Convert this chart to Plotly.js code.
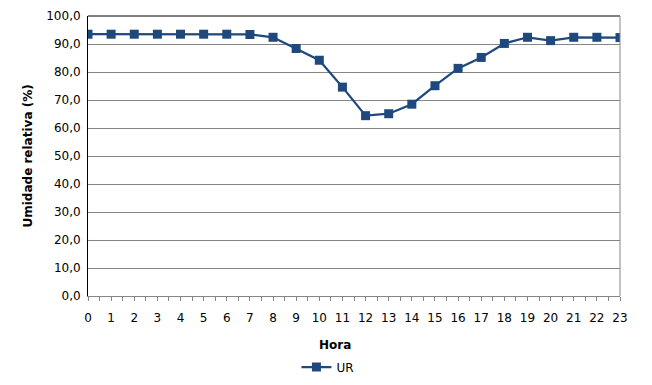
<!DOCTYPE html>
<html>
<head>
<meta charset="utf-8">
<script src="https://cdn.plot.ly/plotly-3.0.1.min.js"></script>
<style>html,body{margin:0;padding:0;background:#fff;}#chart{width:652px;height:385px;}</style>
</head>
<body>
<div id="chart"></div>
<script>
const hours = [0,1,2,3,4,5,6,7,8,9,10,11,12,13,14,15,16,17,18,19,20,21,22,23];
const ur = [93.5,93.5,93.5,93.5,93.5,93.5,93.5,93.4,92.4,88.4,84.2,74.6,64.4,65.1,68.5,75.1,81.3,85.2,90.2,92.4,91.2,92.4,92.4,92.3];
const yTickVals = [0,10,20,30,40,50,60,70,80,90,100];
const yTickText = ["0,0","10,0","20,0","30,0","40,0","50,0","60,0","70,0","80,0","90,0","100,0"];
const seriesName = "UR";
const xTitle = "Hora";
const yTitle = "Umidade relativa (%)";

const color = "#1F497D";
const fontFam = "DejaVu Sans, Verdana, sans-serif";
const fs = 12;

const data = [{
  x: hours, y: ur, name: seriesName, type: "scatter", mode: "lines+markers",
  line: {color: color, width: 2.25},
  marker: {symbol: "square", size: 9, color: color},
  showlegend: true
}];

const layout = {
  width: 652, height: 385,
  margin: {l: 88, r: 32, t: 16, b: 89},
  paper_bgcolor: "#fff", plot_bgcolor: "#fff",
  font: {family: fontFam, size: fs, color: "#000"},
  xaxis: {
    range: [0, 23], tickvals: hours, ticktext: hours.map(String),
    showgrid: false, zeroline: false, automargin: false,
    showline: true, linecolor: "#868686", linewidth: 1,
    ticks: "outside", ticklen: 4, tickcolor: "#868686", ticklabelstandoff: 7,
    minor: {dtick: 0.5, tick0: 0, ticks: "outside", ticklen: 4, tickcolor: "#868686", showgrid: false},
    fixedrange: true
  },
  yaxis: {
    range: [0, 100], tickvals: yTickVals, ticktext: yTickText,
    showgrid: true, gridcolor: "#868686", gridwidth: 1, automargin: false,
    zeroline: false, showline: true, linecolor: "#000", linewidth: 1,
    ticks: "", ticklabelstandoff: 4,
    fixedrange: true
  },
  annotations: [
    {text: "<b>" + xTitle + "</b>", xref: "paper", yref: "paper", x: 0.4643, y: -0.175,
     xanchor: "center", yanchor: "middle", showarrow: false, font: {family: fontFam, size: fs}},
    {text: "<b>" + yTitle + "</b>", xref: "paper", yref: "paper", x: -0.1137, y: 0.5, textangle: -90,
     xanchor: "center", yanchor: "middle", showarrow: false, font: {family: fontFam, size: fs}}
  ],
  shapes: [
    {type: "line", xref: "paper", yref: "paper", x0: 0, x1: 1, y0: 1, y1: 1, line: {color: "#000", width: 1}},
    {type: "line", xref: "paper", yref: "paper", x0: 1, x1: 1, y0: 0, y1: 1, line: {color: "#868686", width: 1}}
  ],
  legend: {
    orientation: "h", x: 0.451, xanchor: "center",
    yref: "container", y: 18 / 385, yanchor: "middle",
    font: {family: fontFam, size: fs}, bgcolor: "rgba(0,0,0,0)"
  }
};

Plotly.newPlot("chart", data, layout, {displayModeBar: false, staticPlot: true});
</script>
</body>
</html>
